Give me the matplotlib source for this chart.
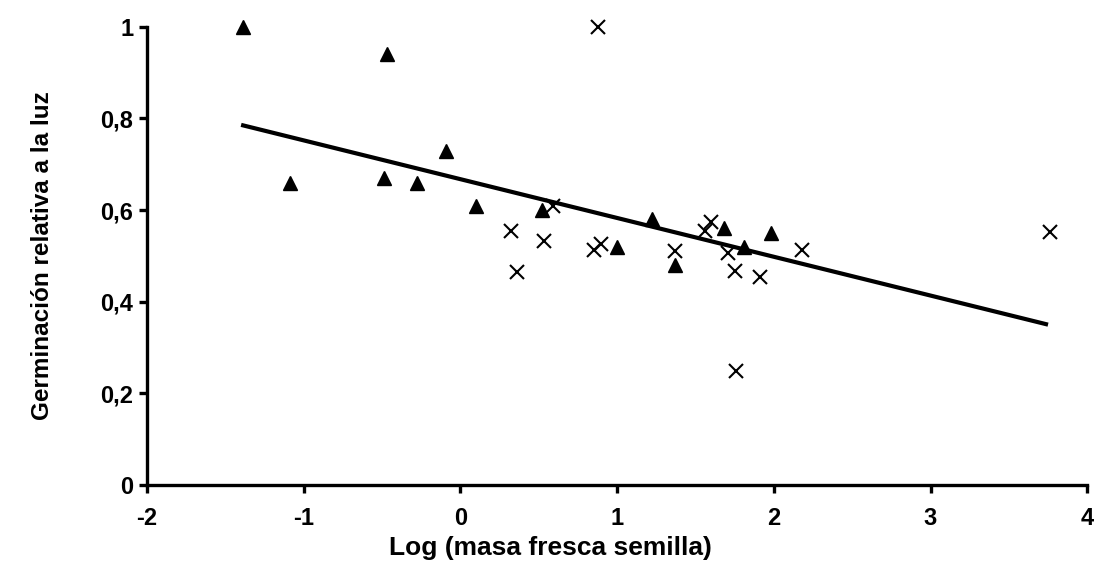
import matplotlib
matplotlib.use("Agg")
import matplotlib.pyplot as plt

# filled triangles
tri_x = [-1.385, -0.47, -1.09, -0.49, -0.28, -0.09, 0.10, 0.52, 1.00, 1.22,
         1.37, 1.68, 1.81, 1.98]
tri_y = [1.00, 0.94, 0.66, 0.67, 0.66, 0.73, 0.61, 0.60, 0.52, 0.58,
         0.48, 0.56, 0.52, 0.55]

# crosses
cross_x = [0.88, 0.32, 0.53, 0.36, 0.59, 0.85, 0.90, 1.37, 1.60, 1.56,
           1.71, 1.75, 1.91, 2.18, 1.76, 3.76]
cross_y = [1.00, 0.554, 0.532, 0.465, 0.61, 0.514, 0.525, 0.51, 0.574, 0.554,
           0.507, 0.467, 0.454, 0.514, 0.248, 0.553]

# regression line ends
line_x = [-1.40, 3.75]
line_y = [0.786, 0.350]

xticks = [-2, -1, 0, 1, 2, 3, 4]
xtick_labels = ["-2", "-1", "0", "1", "2", "3", "4"]
yticks = [0, 0.2, 0.4, 0.6, 0.8, 1]
ytick_labels = ["0", "0,2", "0,4", "0,6", "0,8", "1"]

plt.rcParams['font.family'] = ['Liberation Sans', 'DejaVu Sans']

fig = plt.figure(figsize=(11.06, 5.71), dpi=100)
ax = fig.add_axes([0.133, 0.1506, 0.850, 0.8024])

ax.plot(line_x, line_y, color='black', linewidth=3.0, solid_capstyle='butt', zorder=2)
ax.plot(tri_x, tri_y, linestyle='none', marker='^', markersize=10.5,
        color='black', zorder=3, clip_on=False)
ax.plot(cross_x, cross_y, linestyle='none', marker='x', markersize=10,
        markeredgewidth=1.5, color='black', zorder=3, clip_on=False)

ax.set_xlim(-2, 4)
ax.set_ylim(0, 1)
ax.set_xticks(xticks)
ax.set_xticklabels(xtick_labels, fontsize=17, fontweight='bold')
ax.set_yticks(yticks)
ax.set_yticklabels(ytick_labels, fontsize=17, fontweight='bold')

for s in ['top', 'right']:
    ax.spines[s].set_visible(False)
for s in ['left', 'bottom']:
    ax.spines[s].set_linewidth(2.4)
    ax.spines[s].set_clip_on(False)

ax.tick_params(axis='x', direction='out', length=6, width=2.4, pad=10)
ax.tick_params(axis='y', direction='out', length=6, width=2.4, pad=4)

ax.set_xlabel('Log (masa fresca semilla)', fontsize=19, fontweight='bold')
ax.xaxis.label.set_va('center')
ax.xaxis.set_label_coords(0.429, -0.138)
ax.set_ylabel('Germinación relativa a la luz', fontsize=17.5, fontweight='bold', labelpad=33)

fig.savefig('out.png', dpi=100)
